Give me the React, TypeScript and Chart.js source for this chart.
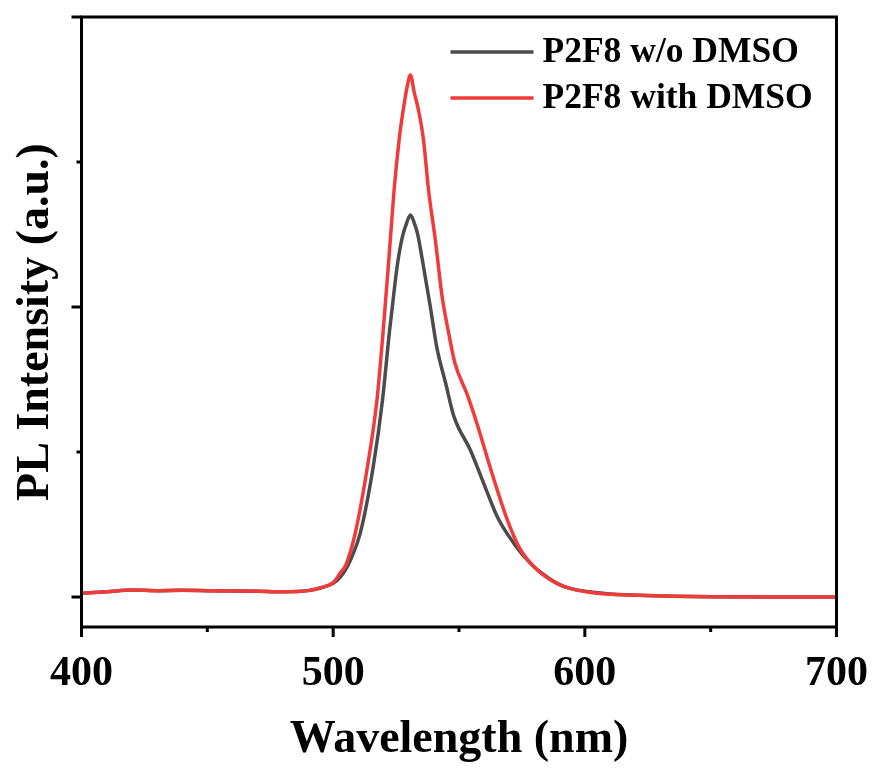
import React, { useEffect, useRef } from "react";
import { Chart, registerables } from "chart.js";

Chart.register(...registerables);

const seriesLabels = ["P2F8 w/o DMSO", "P2F8 with DMSO"];
const seriesColors = ["#4b4b4b", "#f13b3b"];

const wavelengthWithout = [
  400, 410, 420, 430, 440, 450, 460, 470, 480, 490, 495, 500, 503, 505, 507,
  510.8, 515.9, 519.6, 522.3, 523.5, 525.4, 527.5, 529.2, 530.7, 532.2, 533.5,
  535.9, 538.6, 541.2, 544.7, 548, 554.5, 559.8, 565.2, 571.8, 578.4, 585.1,
  591.7, 605, 618.2, 635, 650, 675, 700,
];
const intensityWithout = [
  0.013, 0.018, 0.024, 0.022, 0.023, 0.022, 0.021, 0.02, 0.018, 0.022, 0.031,
  0.047, 0.07, 0.095, 0.13, 0.221, 0.448, 0.679, 0.91, 1.0, 1.139, 1.242,
  1.29, 1.317, 1.29, 1.254, 1.139, 1.001, 0.86, 0.737, 0.622, 0.507, 0.392,
  0.277, 0.185, 0.116, 0.068, 0.036, 0.015, 0.007, 0.003, 0.001, 0, 0,
];

const wavelengthWith = [
  400, 410, 420, 430, 440, 450, 460, 470, 480, 490, 495, 500, 503, 505, 508.8,
  513.6, 517.4, 519.8, 522.2, 524.2, 526.2, 527.5, 529.4, 530.7, 532.2, 533.9,
  535.9, 537.9, 540.6, 543.3, 545.9, 548.4, 553.1, 557.1, 561.1, 565.2, 569.2,
  573.8, 579.8, 586.4, 594.3, 604.9, 618.2, 635, 650, 675, 700,
];
const intensityWith = [
  0.013, 0.018, 0.024, 0.022, 0.023, 0.022, 0.021, 0.02, 0.018, 0.022, 0.032,
  0.05, 0.085, 0.11, 0.221, 0.448, 0.679, 0.91, 1.173, 1.403, 1.576, 1.66,
  1.76, 1.8, 1.74, 1.679, 1.576, 1.403, 1.231, 1.035, 0.91, 0.806, 0.702,
  0.599, 0.484, 0.369, 0.266, 0.173, 0.104, 0.059, 0.03, 0.013, 0.007, 0.003,
  0.001, 0, 0,
];

const xRange = [400, 700];
const xMajorTicks = [400, 500, 600, 700];
const xMinorTicks = [450, 550, 650];
const yRange = [-0.1034, 2.0];
const yMajorTicks = [0, 1, 2];
const yMinorTicks = [0.5, 1.5];

const FONT = '"Liberation Serif", "Times New Roman", serif';

const toPoints = (xs: number[], ys: number[]) =>
  xs.map((x, i) => ({ x, y: ys[i] }));

const framePlugin = {
  id: "frameTicksLegend",
  afterDatasetsDraw(chart: any) {
    const { ctx, chartArea: a, scales } = chart;
    ctx.save();
    ctx.strokeStyle = "#000";
    ctx.lineWidth = 3;
    ctx.lineCap = "butt";
    ctx.strokeRect(a.left, a.top, a.right - a.left, a.bottom - a.top);

    const tick = (x1: number, y1: number, x2: number, y2: number) => {
      ctx.beginPath();
      ctx.moveTo(x1, y1);
      ctx.lineTo(x2, y2);
      ctx.stroke();
    };
    xMajorTicks.forEach((v) => {
      const px = scales.x.getPixelForValue(v);
      tick(px, a.bottom, px, a.bottom + 10);
    });
    xMinorTicks.forEach((v) => {
      const px = scales.x.getPixelForValue(v);
      tick(px, a.bottom, px, a.bottom + 5);
    });
    yMajorTicks.forEach((v) => {
      const py = scales.y.getPixelForValue(v);
      tick(a.left, py, a.left - 10, py);
    });
    yMinorTicks.forEach((v) => {
      const py = scales.y.getPixelForValue(v);
      tick(a.left, py, a.left - 5, py);
    });

    // legend
    const lx = a.right - 386;
    const rows = [52, 98];
    chart.data.datasets.forEach((ds: any, i: number) => {
      ctx.strokeStyle = ds.borderColor;
      ctx.lineWidth = 3.5;
      tick(lx, rows[i], lx + 83, rows[i]);
      ctx.fillStyle = "#000";
      ctx.font = `bold 35.5px ${FONT}`;
      ctx.textBaseline = "alphabetic";
      ctx.textAlign = "left";
      ctx.fillText(ds.label, lx + 92, rows[i] + 10);
    });
    ctx.restore();
  },
};

export default function App() {
  const canvasRef = useRef<HTMLCanvasElement | null>(null);

  useEffect(() => {
    document.body.style.margin = "0";
    const canvas = canvasRef.current;
    if (!canvas) return;
    const chart = new Chart(canvas, {
      type: "line",
      data: {
        datasets: [
          {
            label: seriesLabels[0],
            data: toPoints(wavelengthWithout, intensityWithout),
            borderColor: seriesColors[0],
            borderWidth: 3.5,
            pointRadius: 0,
            cubicInterpolationMode: "monotone",
            order: 1,
          },
          {
            label: seriesLabels[1],
            data: toPoints(wavelengthWith, intensityWith),
            borderColor: seriesColors[1],
            borderWidth: 3.5,
            pointRadius: 0,
            cubicInterpolationMode: "monotone",
            order: 0,
          },
        ],
      },
      options: {
        responsive: false,
        animation: false,
        layout: { padding: { top: 17, right: 40.5, left: 0, bottom: 0 } },
        plugins: { legend: { display: false }, tooltip: { enabled: false } },
        scales: {
          x: {
            type: "linear",
            min: xRange[0],
            max: xRange[1],
            grid: { display: false },
            border: { display: false },
            ticks: {
              stepSize: 100,
              color: "#000",
              padding: 14,
              font: { family: FONT, size: 42, weight: "bold" },
            },
            title: {
              display: true,
              text: "Wavelength (nm)",
              color: "#000",
              padding: { top: 0, bottom: 0 },
              font: { family: FONT, size: 46, weight: "bold" },
            },
            afterFit: (scale: any) => {
              scale.height = 141;
              scale.paddingLeft = 0;
              scale.paddingRight = 0;
            },
          },
          y: {
            type: "linear",
            min: yRange[0],
            max: yRange[1],
            grid: { display: false },
            border: { display: false },
            ticks: { display: false },
            title: {
              display: true,
              text: "PL Intensity (a.u.)",
              color: "#000",
              padding: { top: 9, bottom: 0 },
              font: { family: FONT, size: 46, weight: "bold" },
            },
            afterFit: (scale: any) => {
              scale.width = 81.5;
              scale.paddingTop = 0;
              scale.paddingBottom = 0;
            },
          },
        },
      },
      plugins: [framePlugin],
    });
    return () => chart.destroy();
  }, []);

  return (
    <div style={{ width: 877, height: 768 }}>
      <canvas ref={canvasRef} width={877} height={768} />
    </div>
  );
}
